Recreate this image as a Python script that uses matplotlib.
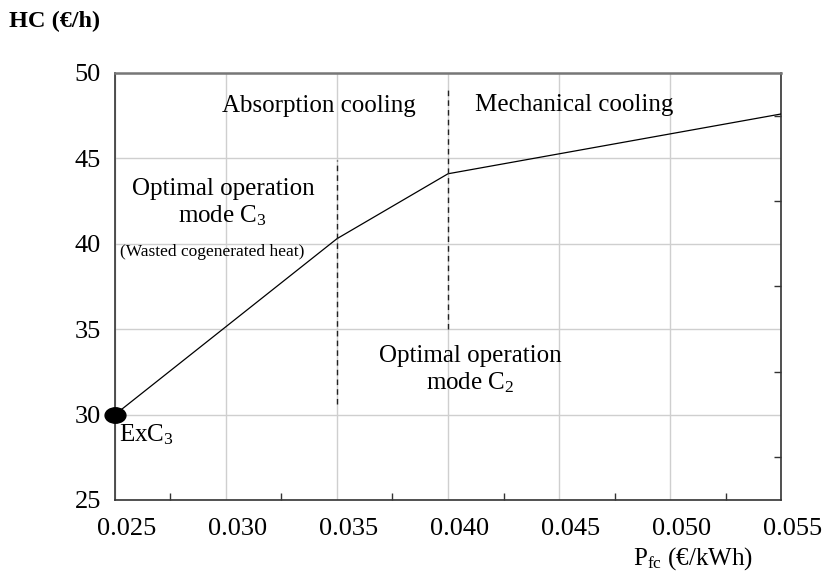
import matplotlib
matplotlib.use("Agg")
import matplotlib.pyplot as plt
import numpy as np
from matplotlib.path import Path
from matplotlib.transforms import Affine2D, ScaledTranslation
from matplotlib.ticker import FixedLocator

plt.rcParams['font.family'] = ['Liberation Serif', 'DejaVu Serif']
plt.rcParams['mathtext.fontset'] = 'custom'
plt.rcParams['mathtext.rm'] = 'Liberation Serif'
plt.rcParams['mathtext.it'] = 'Liberation Serif:italic'

# Data
price = [0.025, 0.035, 0.040, 0.055]
cost = [30.0, 40.3, 44.1, 47.6]

# region boundaries (dashed)
bound1_x = [0.035, 0.035]
bound1_y = [30.6, 44.9]
bound2_x = [0.040, 0.040]
bound2_y = [35.0, 49.2]

xticks = [0.025, 0.030, 0.035, 0.040, 0.045, 0.050, 0.055]
xticklabels = ["0.025", "0.030", "0.035", "0.040", "0.045", "0.050", "0.055"]
xminor = [0.0275, 0.0325, 0.0375, 0.0425, 0.0475, 0.0525]
yticks = [25, 30, 35, 40, 45, 50]
yminor = [27.5, 32.5, 37.5, 42.5, 47.5]

fig = plt.figure(figsize=(8.22, 5.74), dpi=100)
ax = fig.add_axes([115/822, 1-500/574, (781-115)/822, (500-73)/574])

ax.set_xlim(0.025, 0.055)
ax.set_ylim(25, 50)

ax.grid(True, which='major', color='#cfcfcf', linewidth=1.0)
ax.set_axisbelow(True)

ax.plot(price, cost, color='black', linewidth=0.9, zorder=3)

ellipse = Path.unit_circle().transformed(Affine2D().scale(1.35, 1.0))
ax.plot(price[:1], cost[:1], linestyle='none', marker=ellipse, markersize=15,
        color='black', clip_on=False, zorder=4)

ax.plot(bound1_x, bound1_y, color='#222222', linewidth=1.0, dashes=(4, 3), zorder=3)
ax.plot(bound2_x, bound2_y, color='#222222', linewidth=1.0, dashes=(4, 3), zorder=3)

ax.set_xticks(xticks)
ax.set_xticklabels(xticklabels)
ax.set_yticks(yticks)
ax.xaxis.set_minor_locator(FixedLocator(xminor))
ax.yaxis.set_minor_locator(FixedLocator(yminor))

ax.tick_params(axis='both', which='major', length=0, labelsize=19, colors='black')
ax.tick_params(axis='x', which='major', pad=13)
ax.tick_params(axis='y', which='major', pad=10)
ax.tick_params(axis='x', which='minor', direction='in', length=5, width=1, color='#333333', bottom=True, top=False)
ax.tick_params(axis='y', which='minor', direction='in', length=5, width=1, color='#333333', left=False, right=True)

# x tick labels in the reference sit slightly right of their ticks
shift = ScaledTranslation(12/100, 0, fig.dpi_scale_trans)
for lbl in ax.get_xticklabels():
    lbl.set_transform(lbl.get_transform() + shift)

for s in ['left', 'right', 'bottom']:
    ax.spines[s].set_color('#333333')
    ax.spines[s].set_linewidth(1.2)
ax.spines['top'].set_color('#777777')
ax.spines['top'].set_linewidth(1.8)

ax.text(0.0342, 48.05, "Absorption cooling", fontsize=18, ha='center', va='center')
ax.text(0.0457, 48.15, "Mechanical cooling", fontsize=18, ha='center', va='center')
ax.text(0.02986, 42.4, "Optimal operation\nmode C$_3$", fontsize=18, ha='center', va='center',
        linespacing=1.15)
ax.text(0.02937, 39.52, "(Wasted cogenerated heat)", fontsize=12.5, ha='center', va='center')
ax.text(0.0410, 32.6, "Optimal operation\nmode C$_2$", fontsize=18, ha='center', va='center',
        linespacing=1.15)
ax.text(0.02518, 28.8, "ExC$_3$", fontsize=18, ha='left', va='center')

fig.text(9/822, 1-21/574, "HC (€/h)", fontsize=17.5, fontweight='bold', ha='left', va='center')
fig.text(633/822, 1-559/574, "P$_{\\mathrm{fc}}$ (€/kWh)", fontsize=18, ha='left', va='center')

fig.savefig("out.png", dpi=100)
